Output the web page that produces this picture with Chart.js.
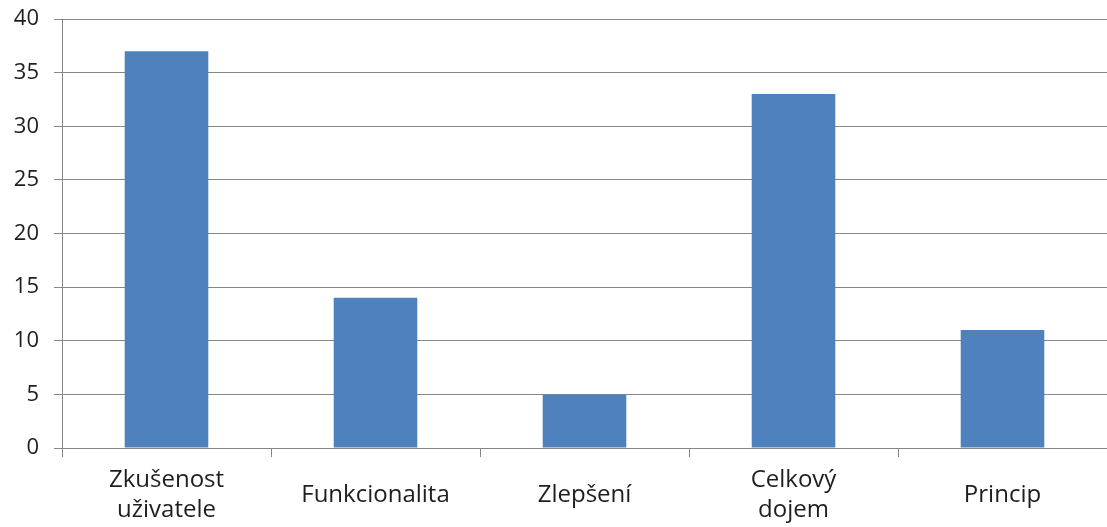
<!DOCTYPE html>
<html>
<head>
<meta charset="utf-8">
<script src="https://cdn.jsdelivr.net/npm/chart.js@4"></script>
<style>
  html, body { margin: 0; padding: 0; background: #fff; }
  #wrap { width: 1107px; height: 527px; }
</style>
</head>
<body>
<div id="wrap"><canvas id="hodnoceni"></canvas></div>
<script>
// Categories (multi-line where the label wraps) and counts
const categories = [
    ['Zkušenost', 'uživatele'],
    'Funkcionalita',
    'Zlepšení',
    ['Celkový', 'dojem'],
    'Princip'
];
const counts = [37, 14, 5, 33, 11];
const yTicks = [0, 5, 10, 15, 20, 25, 30, 35, 40];

const axisGray = '#868686';

const ctx = document.getElementById('hodnoceni').getContext('2d');
new Chart(ctx, {
    type: 'bar',
    data: {
        labels: categories,
        datasets: [{
            label: 'Počet',
            data: counts,
            backgroundColor: '#4f81bd',
            borderWidth: 0,
            barPercentage: 0.4,
            categoryPercentage: 1.0
        }]
    },
    options: {
        responsive: true,
        maintainAspectRatio: false,
        animation: false,
        layout: { padding: { top: 19, right: 0, bottom: 0, left: 0 } },
        plugins: {
            legend: { display: false },
            tooltip: { enabled: false }
        },
        scales: {
            x: {
                grid: {
                    offset: true,
                    drawOnChartArea: false,
                    drawTicks: true,
                    tickLength: 9,
                    color: axisGray
                },
                border: { color: axisGray, width: 1 },
                ticks: {
                    font: { family: 'Open Sans', size: 24, lineHeight: 1.25 },
                    color: '#1e1e1e',
                    padding: 23,
                    crossAlign: 'center',
                    maxRotation: 0,
                    autoSkip: false
                },
                afterFit: function (scale) {
                    scale.height = 79;
                    scale.paddingLeft = 0;
                    scale.paddingRight = 0;
                }
            },
            y: {
                min: 0,
                max: 40,
                afterBuildTicks: function (scale) {
                    scale.ticks = yTicks.map(v => ({ value: v }));
                },
                grid: {
                    color: axisGray,
                    tickLength: 8
                },
                border: { color: axisGray, width: 1 },
                ticks: {
                    font: { family: 'Open Sans', size: 22 },
                    color: '#1e1e1e',
                    padding: 15
                },
                afterFit: function (scale) {
                    scale.width = 62;
                    scale.paddingTop = 0;
                    scale.paddingBottom = 0;
                }
            }
        }
    }
});
</script>
</body>
</html>
